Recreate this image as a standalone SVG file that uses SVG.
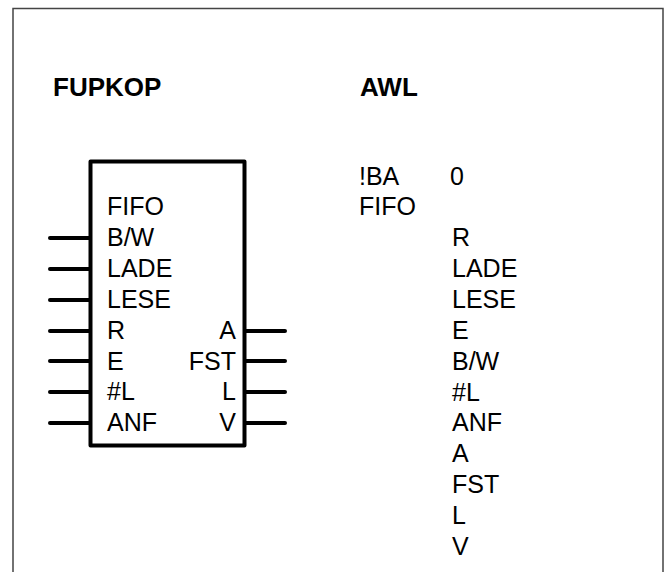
<svg xmlns="http://www.w3.org/2000/svg" width="671" height="572" viewBox="0 0 671 572">
<style>
.t{font-family:"Liberation Sans",Arial,sans-serif;font-size:25px;fill:#000}
.h{font-family:"Liberation Sans",Arial,sans-serif;font-size:26px;font-weight:bold;fill:#000}
.pin{stroke:#000;stroke-width:4;stroke-linecap:round;fill:none}
.e{text-anchor:end}
</style>
<rect width="671" height="572" fill="#fff"/>
<path d="M13,580 V8.5 H663 V580" fill="none" stroke="#444" stroke-width="1.5"/>
<g id="titles">
<text class="h" x="53" y="96">FUPKOP</text>
<text class="h" x="360" y="96">AWL</text>
</g>
<g id="connectors">
<line class="pin" x1="50" y1="238" x2="90" y2="238"/>
<line class="pin" x1="50" y1="269" x2="90" y2="269"/>
<line class="pin" x1="50" y1="300" x2="90" y2="300"/>
<line class="pin" x1="50" y1="331" x2="90" y2="331"/>
<line class="pin" x1="50" y1="361" x2="90" y2="361"/>
<line class="pin" x1="50" y1="392" x2="90" y2="392"/>
<line class="pin" x1="50" y1="423" x2="90" y2="423"/>
<line class="pin" x1="245" y1="331" x2="285" y2="331"/>
<line class="pin" x1="245" y1="361" x2="285" y2="361"/>
<line class="pin" x1="245" y1="392" x2="285" y2="392"/>
<line class="pin" x1="245" y1="423" x2="285" y2="423"/>
</g>
<g id="fifo-block">
<rect x="90.5" y="161.5" width="154" height="284" fill="#fff" stroke="#000" stroke-width="4" stroke-linejoin="round"/>
<text class="t" x="107" y="215">FIFO</text>
<text class="t" x="107" y="246">B/W</text>
<text class="t" x="107" y="277">LADE</text>
<text class="t" x="107" y="308">LESE</text>
<text class="t" x="107" y="339">R</text>
<text class="t" x="107" y="370">E</text>
<text class="t" x="107" y="400">#L</text>
<text class="t" x="107" y="431">ANF</text>
<text class="t e" x="236" y="339">A</text>
<text class="t e" x="236" y="370">FST</text>
<text class="t e" x="236" y="400">L</text>
<text class="t e" x="236" y="431">V</text>
</g>
<g id="awl-list">
<text class="t" x="359" y="184.5">!BA</text>
<text class="t" x="450" y="184.5">0</text>
<text class="t" x="359" y="215.4">FIFO</text>
<text class="t" x="452" y="246.2">R</text>
<text class="t" x="452" y="277.1">LADE</text>
<text class="t" x="452" y="307.9">LESE</text>
<text class="t" x="452" y="338.8">E</text>
<text class="t" x="452" y="369.6">B/W</text>
<text class="t" x="452" y="400.5">#L</text>
<text class="t" x="452" y="431.3">ANF</text>
<text class="t" x="452" y="462.2">A</text>
<text class="t" x="452" y="493">FST</text>
<text class="t" x="452" y="523.9">L</text>
<text class="t" x="452" y="554.7">V</text>
</g>
</svg>
